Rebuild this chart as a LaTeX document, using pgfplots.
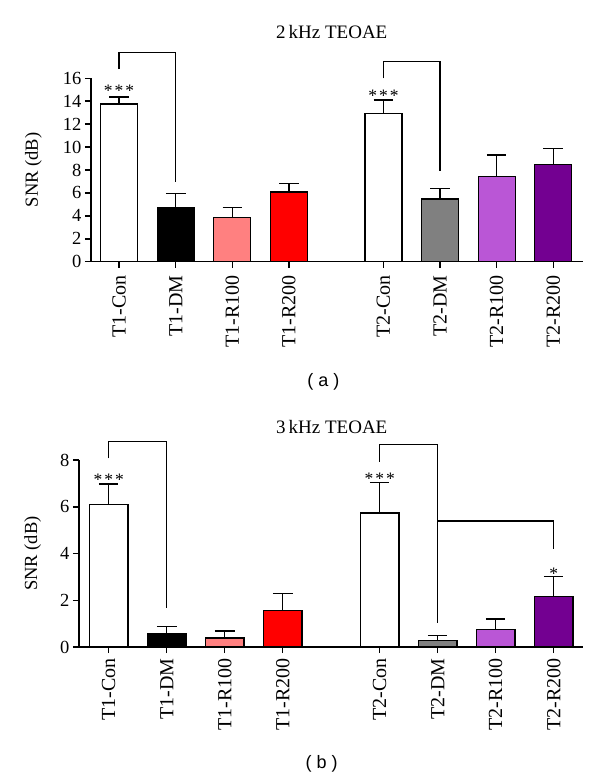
\documentclass[border=0pt]{standalone}
\usepackage{fontspec}
\setmainfont{Liberation Serif}
\newfontfamily\sansf{Liberation Sans}
\usepackage{pgfplots}
\pgfplotsset{compat=1.18}
\definecolor{lred}{RGB}{255,128,128}
\definecolor{rred}{RGB}{255,0,0}
\definecolor{ggray}{RGB}{128,128,128}
\definecolor{orch}{RGB}{186,86,214}
\definecolor{purp}{RGB}{115,0,145}
\tikzset{stars/.style={anchor=base, yshift=-9.2pt, font=\fontsize{17.5}{20}\selectfont}}
\pgfplotsset{
  panel/.style={
    scale only axis, clip=false,
    axis x line*=bottom, axis y line*=left,
    axis line style={line width=1.5pt, -},
    tick style={line width=1.5pt, black},
    tick align=outside, major tick length=6pt,
    xtick={0,1,2,3,4.67,5.67,6.67,7.67},
    xticklabels={T1-Con,T1-DM,T1-R100,T1-R200,T2-Con,T2-DM,T2-R100,T2-R200},
    xticklabel style={rotate=90, anchor=east, font=\fontsize{20}{22}\selectfont},
    yticklabel style={font=\fontsize{18.5}{20}\selectfont},
    /pgf/number format/assume math mode=true,
    ylabel={SNR (dB)},
    ymin=0,
    every axis plot/.append style={ybar, bar shift=0pt, draw=black, line width=1.3pt,
      error bars/y dir=plus, error bars/y explicit,
      error bars/error bar style={line width=1.3pt, black},
      error bars/error mark options={rotate=90, mark size=9.8pt, line width=1.3pt, black}},
  }
}
\begin{document}
\begin{tikzpicture}
\path[use as bounding box] (0pt,0pt) rectangle (600pt,780pt);
% ---------- panel (a)
\begin{axis}[panel, at={(90.8pt,518.3pt)}, anchor=south west,
  width=491.9pt, height=183.4pt, xmin=-0.5, xmax=8.19, ymax=16,
  ytick={0,2,...,16}, xticklabel shift=4pt,
  every axis plot/.append style={bar width=37pt},
  ylabel style={at={(axis description cs:-0.1167,0.5)}, anchor=center, font=\fontsize{18.5}{20}\selectfont}]
\addplot[fill=white] coordinates {(0,13.75) +- (0,0.62)};
\addplot[fill=black] coordinates {(1,4.70) +- (0,1.27)};
\addplot[fill=lred] coordinates {(2,3.84) +- (0,0.88)};
\addplot[fill=rred] coordinates {(3,6.08) +- (0,0.76)};
\addplot[fill=white] coordinates {(4.67,12.92) +- (0,1.19)};
\addplot[fill=ggray] coordinates {(5.67,5.47) +- (0,0.90)};
\addplot[fill=orch] coordinates {(6.67,7.42) +- (0,1.89)};
\addplot[fill=purp] coordinates {(7.67,8.50) +- (0,1.36)};
\draw[line width=1.3pt] (axis cs:0,16.8) |- (axis cs:1,18.27) -- (axis cs:1,6.93);
\draw[line width=1.3pt] (axis cs:4.67,16.0) |- (axis cs:5.67,17.45) -- (axis cs:5.67,7.9);
\node[stars] at (axis cs:0,15.2) {*\hspace{2pt}*\hspace{2pt}*};
\node[stars] at (axis cs:4.67,14.74) {*\hspace{2pt}*\hspace{2pt}*};
\end{axis}
% ---------- panel (b)
\begin{axis}[panel, at={(78.8pt,133pt)}, anchor=south west,
  width=503.9pt, height=187pt, xmin=-0.515, xmax=8.17, ymax=8,
  ytick={0,2,...,8}, xticklabel shift=2pt,
  every axis plot/.append style={bar width=38.5pt},
  ylabel style={at={(axis description cs:-0.0915,0.5)}, anchor=center, font=\fontsize{18.5}{20}\selectfont}]
\addplot[fill=white] coordinates {(0,6.10) +- (0,0.87)};
\addplot[fill=black] coordinates {(1,0.58) +- (0,0.29)};
\addplot[fill=lred] coordinates {(2,0.385) +- (0,0.30)};
\addplot[fill=rred] coordinates {(3,1.57) +- (0,0.71)};
\addplot[fill=white] coordinates {(4.67,5.73) +- (0,1.30)};
\addplot[fill=ggray] coordinates {(5.67,0.27) +- (0,0.23)};
\addplot[fill=orch] coordinates {(6.67,0.76) +- (0,0.44)};
\addplot[fill=purp] coordinates {(7.67,2.17) +- (0,0.84)};
\draw[line width=1.3pt] (axis cs:0,8.07) |- (axis cs:1,8.78) -- (axis cs:1,1.65);
\draw[line width=1.3pt] (axis cs:4.67,7.93) |- (axis cs:5.67,8.67) -- (axis cs:5.67,1.04);
\draw[line width=1.3pt] (axis cs:5.67,5.39) -| (axis cs:7.67,4.19);
\node[stars] at (axis cs:0,7.29) {*\hspace{2pt}*\hspace{2pt}*};
\node[stars] at (axis cs:4.67,7.36) {*\hspace{2pt}*\hspace{2pt}*};
\node[stars] at (axis cs:7.67,3.30) {*};
\end{axis}
% titles and panel letters
\node[font=\fontsize{19}{21}\selectfont] at (331.7pt,748.3pt) {2\,kHz TEOAE};
\node[font=\fontsize{19}{21}\selectfont] at (331.7pt,353.3pt) {3\,kHz TEOAE};
\node[font=\sansf\fontsize{18}{20}\selectfont] at (323.3pt,398.3pt) {( a )};
\node[font=\sansf\fontsize{18}{20}\selectfont] at (321.7pt,16pt) {( b )};
\end{tikzpicture}
\end{document}
